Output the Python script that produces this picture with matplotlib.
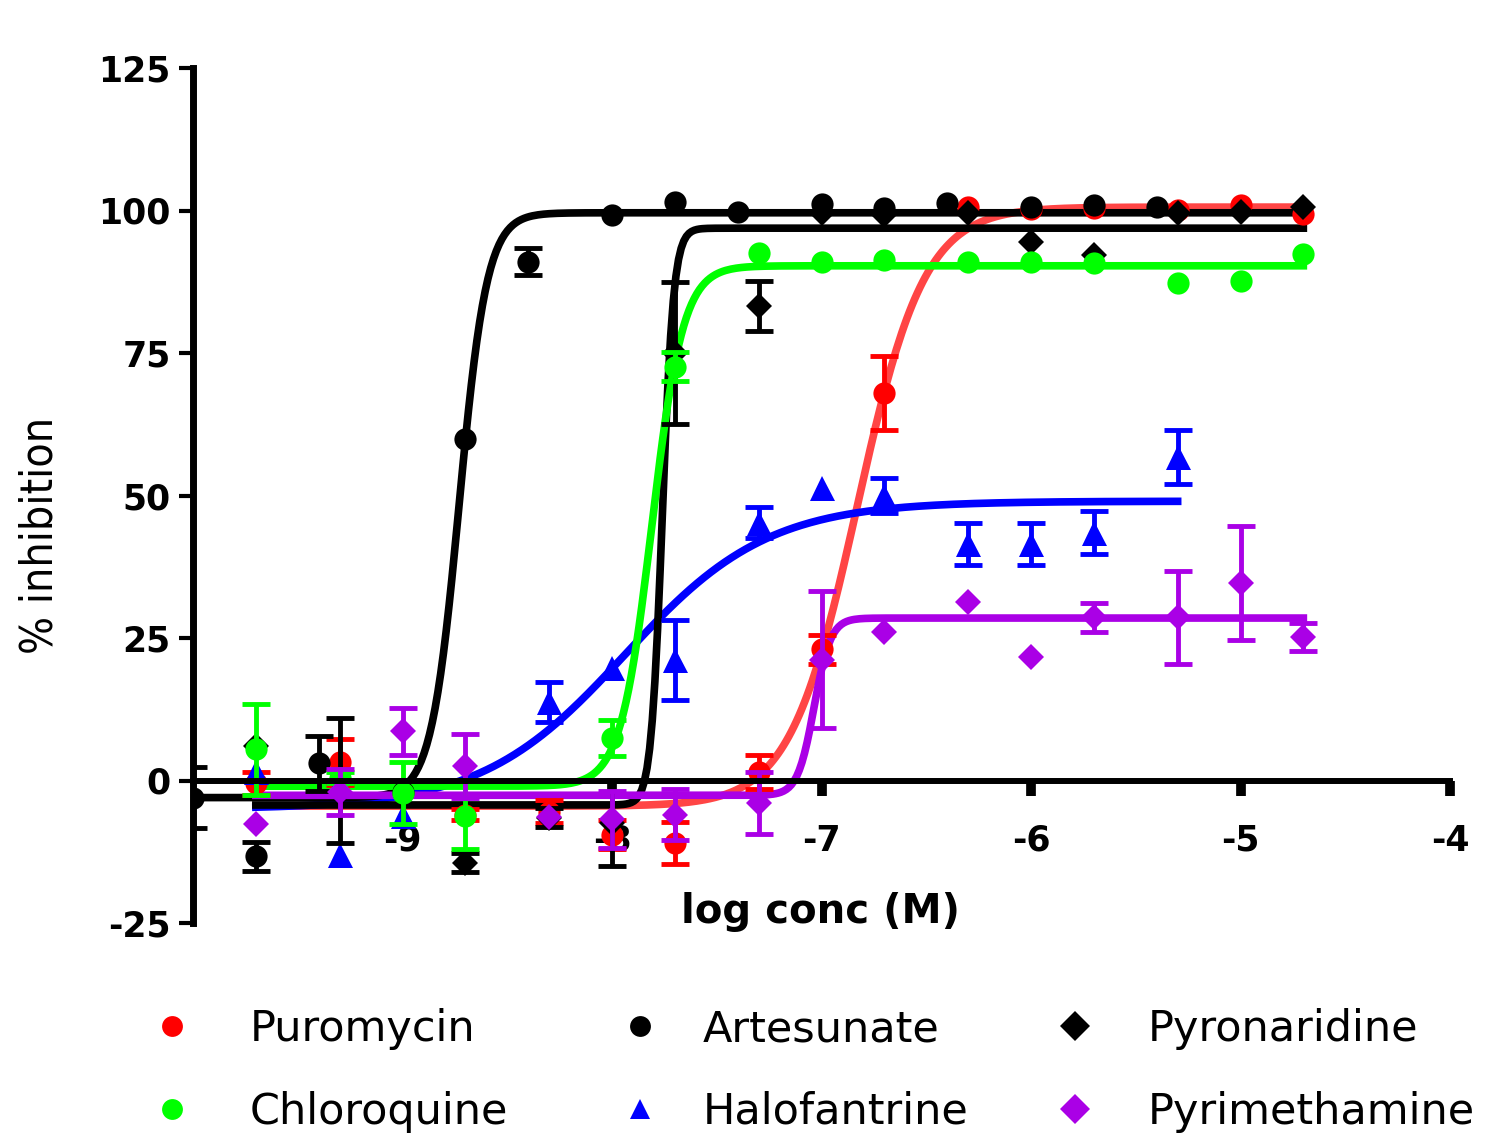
import numpy as np
import matplotlib.pyplot as plt
from matplotlib.lines import Line2D

plt.rcParams["axes.unicode_minus"] = False

# Mean % inhibition vs log conc (M), with error bars
puro_x = [-9.7, -9.3, -8.7, -8.3, -8.0, -7.7, -7.3, -7.0, -6.7, -6.3, -6.0, -5.7, -5.3, -5.0, -4.7]
puro_y = [-0.5, 3.2, -6.0, -5.5, -9.5, -11.0, 1.5, 23.0, 68.0, 100.6, 100.2, 100.5, 100.1, 101.0, 99.4]
puro_e = [2.0, 4.0, 1.0, 2.0, 2.5, 3.7, 3.0, 2.5, 6.5, 0, 0, 0, 0, 0, 0]

arte_x = [-10.0, -9.7, -9.4, -9.0, -8.7, -8.4, -8.0, -7.7, -7.4, -7.0, -6.7, -6.4, -6.0, -5.7, -5.4]
arte_y = [-3.0, -13.3, 3.0, -2.0, 60.0, 91.0, 99.2, 101.5, 99.7, 101.2, 100.4, 101.3, 100.6, 101.0, 100.6]
arte_e = [5.3, 2.5, 4.8, 0, 0, 2.4, 0, 0, 0, 0, 0, 0, 0, 0, 0]

pyro_x = [-9.7, -9.3, -8.7, -8.3, -8.0, -7.7, -7.3, -7.0, -6.7, -6.3, -6.0, -5.7, -5.3, -5.0, -4.7]
pyro_y = [6.0, 0.0, -14.4, -6.5, -7.5, 75.0, 83.2, 99.5, 99.2, 99.5, 94.5, 92.2, 99.5, 99.8, 100.6]
pyro_e = [0, 11.0, 1.7, 1.7, 7.5, 12.5, 4.4, 0, 0, 0, 0, 0, 0, 0, 0]

chlo_x = [-9.7, -9.3, -9.0, -8.7, -8.0, -7.7, -7.3, -7.0, -6.7, -6.3, -6.0, -5.7, -5.3, -5.0, -4.7]
chlo_y = [5.5, 0.5, -2.2, -6.3, 7.5, 72.6, 92.5, 91.0, 91.3, 91.0, 91.0, 90.8, 87.3, 87.6, 92.4]
chlo_e = [8.0, 1.0, 5.4, 5.7, 3.2, 2.5, 0, 0, 0, 0, 0, 0, 0, 0, 0]

halo_x = [-9.7, -9.3, -9.0, -8.3, -8.0, -7.7, -7.3, -7.0, -6.7, -6.3, -6.0, -5.7, -5.3]
halo_y = [1.5, -13.0, -6.3, 13.7, 19.8, 21.2, 45.2, 51.4, 50.0, 41.5, 41.5, 43.5, 56.8]
halo_e = [0, 0, 0, 3.5, 0, 7.0, 2.7, 0, 3.0, 3.7, 3.7, 3.7, 4.7]

pyri_x = [-9.7, -9.3, -9.0, -8.7, -8.3, -8.0, -7.7, -7.3, -7.0, -6.7, -6.3, -6.0, -5.7, -5.3, -5.0, -4.7]
pyri_y = [-7.7, -2.0, 8.6, 2.5, -6.4, -6.8, -6.0, -3.9, 21.2, 26.1, 31.4, 21.7, 28.6, 28.6, 34.7, 25.2]
pyri_e = [0, 4.0, 4.2, 5.6, 0, 5.0, 4.5, 5.4, 12.0, 0, 0, 0, 2.6, 8.2, 10.0, 2.5]

# Sigmoidal dose-response fit parameters (bottom, top, logEC50, hill slope)
names = ["Puromycin", "Halofantrine", "Artesunate", "Pyronaridine", "Chloroquine", "Pyrimethamine"]
xs = [puro_x, halo_x, arte_x, pyro_x, chlo_x, pyri_x]
ys = [puro_y, halo_y, arte_y, pyro_y, chlo_y, pyri_y]
es = [puro_e, halo_e, arte_e, pyro_e, chlo_e, pyri_e]
bottoms = [-4.5, -5.0, -3.0, -4.3, -1.0, -2.6]
tops = [100.6, 49.0, 99.6, 96.9, 90.3, 28.5]
log_ec50 = [-6.83, -7.94, -8.73, -7.76, -7.81, -7.035]
hills = [2.7, 1.27, 6.5, 16.0, 5.8, 11.0]
fit_start = [-9.7, -9.7, -10.0, -9.7, -9.7, -9.7]
fit_end = [-4.7, -5.3, -4.7, -4.7, -4.7, -4.7]

colors = ["#ff0000", "#0000ff", "#000000", "#000000", "#00ff00", "#aa00e6"]
curve_colors = ["#ff4545", "#0000ff", "#000000", "#000000", "#00ff00", "#aa00e6"]
markers = ["o", "^", "o", "D", "o", "D"]
msizes = [16, 18, 16, 13, 16, 13]

fig = plt.figure(figsize=(14.95, 11.4), dpi=100)
ax = fig.add_axes([193 / 1495, 1 - 923 / 1140, (1450 - 193) / 1495, (923 - 68) / 1140])

for i in range(len(names)):
    # error bars only where an SEM was visible
    ex = [x for x, e in zip(xs[i], es[i]) if e > 0]
    ey = [y for y, e in zip(ys[i], es[i]) if e > 0]
    ee = [e for e in es[i] if e > 0]
    ax.errorbar(ex, ey, yerr=ee, fmt="none", ecolor=colors[i],
                elinewidth=3.5, capsize=10, capthick=3.5, zorder=3)
    ax.plot(xs[i], ys[i], ls="none", marker=markers[i], color=colors[i],
            ms=msizes[i], mew=0, zorder=3)
    cx = np.linspace(fit_start[i], fit_end[i], 400)
    cy = bottoms[i] + (tops[i] - bottoms[i]) / (1 + 10 ** ((log_ec50[i] - cx) * hills[i]))
    ax.plot(cx, cy, color=curve_colors[i], lw=5.5, zorder=2.8)

ax.set_xlim(-10, -4)
ax.set_ylim(-25, 125)
ax.spines["top"].set_visible(False)
ax.spines["right"].set_visible(False)
ax.spines["bottom"].set_position(("data", 0))
ax.spines["left"].set_linewidth(5)
ax.spines["bottom"].set_linewidth(4.3)
ax.spines["left"].set_zorder(4)
ax.spines["bottom"].set_zorder(4)

ax.set_xticks([-9, -8, -7, -6, -5, -4])
ax.set_yticks([-25, 0, 25, 50, 75, 100, 125])
ax.tick_params(axis="x", length=11, width=7, pad=20, labelsize=25)
ax.tick_params(axis="y", length=10, width=3, pad=6, labelsize=25)
for lab in ax.get_xticklabels() + ax.get_yticklabels():
    lab.set_fontweight("bold")

ax.set_xlabel("log conc (M)", fontsize=29, fontweight="bold")
ax.xaxis.set_label_coords(0.499, 0.036)
fig.text(40 / 1495, 1 - 535 / 1140, "% inhibition", rotation=90, ha="center", va="center",
         fontsize=32, family=["Liberation Sans Narrow", "DejaVu Sans"], stretch="condensed")

# Legend: three columns of two rows
leg_cols = [[0, 4], [2, 1], [3, 5]]
marker_px = [172, 640, 1075]
text_px = [250, 703, 1148]
fs = 31
em = fs * 100 / 72
for k in range(3):
    handles = []
    labels = []
    for i in leg_cols[k]:
        handles.append(Line2D([], [], ls="none", marker=markers[i], color=colors[i], ms=15, mew=0))
        labels.append(names[i])
    start = marker_px[k] - em / 2
    pad = (text_px[k] - start - em) / em
    fig.legend(handles, labels, loc="upper left", bbox_to_anchor=(start / 1495, 1 - 1008 / 1140),
               frameon=False, fontsize=fs, handlelength=1.0, handletextpad=pad,
               borderpad=0, borderaxespad=0, labelspacing=0.95)

fig.savefig("out.png", dpi=100)
